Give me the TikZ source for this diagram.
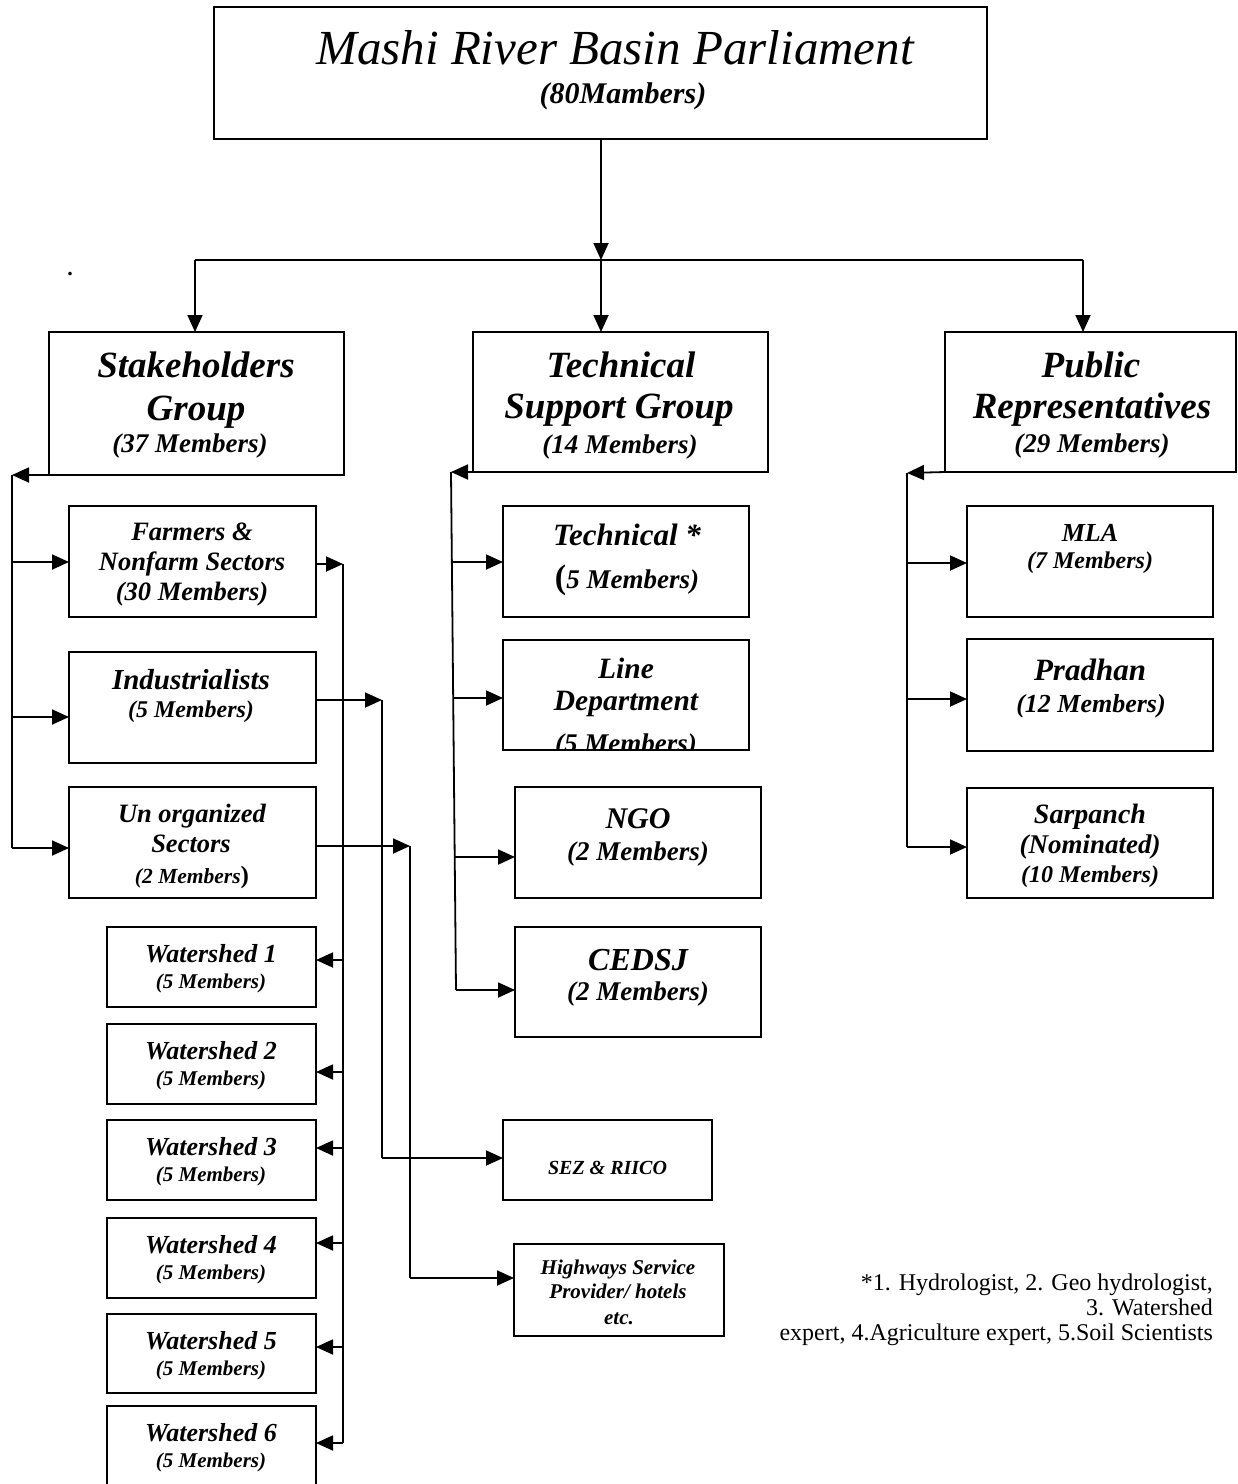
\documentclass[tikz,border=0pt]{standalone}
\usepackage{fontspec}
\setmainfont{Liberation Serif}
\usetikzlibrary{arrows.meta}
\newcommand\fsz[1]{\fontsize{#1}{#1}\selectfont}
\begin{document}
\begin{tikzpicture}[x=1pt,y=-1pt,
  box/.style={draw, line width=1.8pt, inner sep=0pt, outer sep=0pt},
  bx/.style 2 args={box, anchor=north west, minimum width=#1pt, minimum height=#2pt},
  bi/.style={anchor=base, inner sep=0pt, font=\bfseries\itshape\fsz{#1}},
  ft/.style={anchor=base east, inner sep=0pt, font=\fsz{24}},
  ln/.style={line width=1.8pt},
  arr/.style={line width=1.8pt, -{Triangle[length=17pt,width=15pt]}},
]
\useasboundingbox (0,0) rectangle (1238,1484);

% ---------- boxes ----------
\node[bx={773}{132}] (top) at (214,7) {};
\node[bx={295}{143}] (stake) at (49,332) {};
\node[bx={295}{140}] (tech) at (473,332) {};
\node[bx={291}{140}] (pub) at (945,332) {};
\node[bx={247}{111}] (farm) at (69,506) {};
\node[bx={247}{111}] (ind) at (69,652) {};
\node[bx={247}{111}] (unorg) at (69,787) {};
\node[bx={209}{80}] (ws1) at (107,927) {};
\node[bx={209}{80}] (ws2) at (107,1024) {};
\node[bx={209}{80}] (ws3) at (107,1120) {};
\node[bx={209}{80}] (ws4) at (107,1218) {};
\node[bx={209}{79}] (ws5) at (107,1314) {};
\node[bx={209}{90}] (ws6) at (107,1406) {};
\node[bx={246}{111}] (tstar) at (503,506) {};
\node[bx={246}{110}] (line) at (503,640) {};
\node[bx={246}{111}] (ngo) at (515,787) {};
\node[bx={246}{110}] (cedsj) at (515,927) {};
\node[bx={246}{111}] (mla) at (967,506) {};
\node[bx={246}{112}] (prad) at (967,639) {};
\node[bx={246}{110}] (sarp) at (967,788) {};
\node[bx={209}{80}] (sez) at (503,1120) {};
\node[bx={210}{92}] (hwy) at (514,1244) {};

% ---------- texts ----------
\node[anchor=base, inner sep=0pt, font=\itshape\fsz{49}] (t1) at (615,64) {Mashi River Basin Parliament};
\node[bi=30] (t2) at (623,103) {(80Mambers)};

\node[bi=37] (stk1) at (196,377) {Stakeholders};
\node[bi=37] (stk2) at (196,420) {Group};
\node[bi=27] (stk3) at (190,452) {(37 Members)};

\node[bi=37] (tec1) at (621,377) {Technical};
\node[bi=37] (tec2) at (619,418) {Support Group};
\node[bi=27] (tec3) at (620,453) {(14 Members)};

\node[bi=37] (pub1) at (1091,377) {Public};
\node[bi=37] (pub2) at (1092,418) {Representatives};
\node[bi=27] (pub3) at (1092,452) {(29 Members)};

\node[bi=26.5] (far1) at (192,540) {Farmers \&};
\node[bi=26.5] (far2) at (192,570) {Nonfarm Sectors};
\node[bi=26.5] (far3) at (192,600) {(30 Members)};

\node[bi=29] (ind1) at (191,689) {Industrialists};
\node[bi=24] (ind2) at (191,717) {(5 Members)};

\node[bi=26.5] (uno1) at (192,822) {Un organized};
\node[bi=26.5] (uno2) at (191,852) {Sectors};
\node[bi=21.5] (uno3) at (192,883) {(2 Members{\upshape\fsz{25})}};

\node[bi=26] (w1a) at (211,962) {Watershed 1};
\node[bi=21] (w1b) at (211,988) {(5 Members)};
\node[bi=26] (w2a) at (211,1059) {Watershed 2};
\node[bi=21] (w2b) at (211,1085) {(5 Members)};
\node[bi=26] (w3a) at (211,1155) {Watershed 3};
\node[bi=21] (w3b) at (211,1181) {(5 Members)};
\node[bi=26] (w4a) at (211,1253) {Watershed 4};
\node[bi=21] (w4b) at (211,1279) {(5 Members)};
\node[bi=26] (w5a) at (211,1349) {Watershed 5};
\node[bi=21] (w5b) at (211,1375) {(5 Members)};
\node[bi=26] (w6a) at (211,1441) {Watershed 6};
\node[bi=21] (w6b) at (211,1467) {(5 Members)};

\node[bi=31] (ts1) at (627,545) {Technical *};
\node[bi=27] (ts2) at (627,588) {{\upshape\fsz{34}(}5 Members)};

\node[bi=29.5] (ld1) at (626,678) {Line};
\node[bi=29.5] (ld2) at (626,710) {Department};
\begin{scope}
  \clip (line.north west) rectangle (line.south east);
  \node[bi=27] (ld3) at (626,752) {(5 Members)};
\end{scope}

\node[bi=30] (ngo1) at (638,828) {NGO};
\node[bi=27] (ngo2) at (638,860) {(2 Members)};

\node[bi=32] (ced1) at (638,970) {CEDSJ};
\node[bi=27] (ced2) at (638,1000) {(2 Members)};

\node[bi=26] (mla1) at (1090,541) {MLA};
\node[bi=24] (mla2) at (1090,568) {(7 Members)};

\node[bi=31] (pra1) at (1090,680) {Pradhan};
\node[bi=26] (pra2) at (1091,712) {(12 Members)};

\node[bi=28] (sar1) at (1090,823) {Sarpanch};
\node[bi=27] (sar2) at (1090,853) {(Nominated)};
\node[bi=24] (sar3) at (1090,882) {(10 Members)};

\node[bi=20] (sez1) at (607.5,1174) {SEZ \& RIICO};

\node[bi=21] (hw1) at (618,1274) {Highways Service};
\node[bi=21] (hw2) at (618,1298) {Provider/ hotels};
\node[bi=21] (hw3) at (619,1324) {etc.};

\node[ft] (fn1) at (1213,1290) {*1. Hydrologist, 2. Geo hydrologist,};
\node[ft] (fn2) at (1213,1315) {3. Watershed};
\node[ft] (fn3) at (1213,1340) {expert, 4.Agriculture expert, 5.Soil Scientists};

\node[anchor=base, inner sep=0pt, font=\bfseries\fsz{22}] (dot) at (70,275) {.};

% ---------- connectors ----------
\coordinate (j0) at (601,260);
\coordinate (jl) at (195,260);
\coordinate (jr) at (1083,260);
\draw[arr] (top.south -| j0) -- (j0);
\draw[ln] (jl) -- (jr);
\draw[arr] (jl) -- (jl |- stake.north);
\draw[arr] (j0) -- (j0 |- tech.north);
\draw[arr] (jr) -- (jr |- pub.north);

% stakeholders bus
\coordinate (sb0) at (12,475);
\coordinate (sb1) at (12,562);
\coordinate (sb2) at (12,717);
\coordinate (sb3) at (12,848);
\draw[arr] (stake.south west) -- (sb0);
\draw[ln] (sb0) -- (sb3);
\draw[arr] (sb1) -- (sb1 -| farm.west);
\draw[arr] (sb2) -- (sb2 -| ind.west);
\draw[arr] (sb3) -- (sb3 -| unorg.west);

% farmers bus to watersheds
\coordinate (fb0) at (343,564);
\coordinate (fb1) at (343,960);
\coordinate (fb2) at (343,1072);
\coordinate (fb3) at (343,1148);
\coordinate (fb4) at (343,1243);
\coordinate (fb5) at (343,1347);
\coordinate (fb6) at (343,1443);
\draw[arr] (farm.east |- fb0) -- (fb0);
\draw[ln] (fb0) -- (fb6);
\draw[arr] (fb1) -- (fb1 -| ws1.east);
\draw[arr] (fb2) -- (fb2 -| ws2.east);
\draw[arr] (fb3) -- (fb3 -| ws3.east);
\draw[arr] (fb4) -- (fb4 -| ws4.east);
\draw[arr] (fb5) -- (fb5 -| ws5.east);
\draw[arr] (fb6) -- (fb6 -| ws6.east);

% industrialists to SEZ
\coordinate (ib0) at (382,700);
\coordinate (ib1) at (382,1158);
\draw[arr] (ind.east |- ib0) -- (ib0);
\draw[ln] (ib0) -- (ib1);
\draw[arr] (ib1) -- (ib1 -| sez.west);

% unorganized to highways
\coordinate (ub0) at (410,846);
\coordinate (ub1) at (410,1278);
\draw[arr] (unorg.east |- ub0) -- (ub0);
\draw[ln] (ub0) -- (ub1);
\draw[arr] (ub1) -- (ub1 -| hwy.west);

% technical bus
\coordinate (tb0) at (451,472);
\coordinate (tb1) at (452,562);
\coordinate (tb2) at (454,698);
\coordinate (tb3) at (455,857);
\coordinate (tb4) at (456,990);
\draw[arr] (tech.south west) -- (tb0);
\draw[ln] (tb0) -- (tb4);
\draw[arr] (tb1) -- (tb1 -| tstar.west);
\draw[arr] (tb2) -- (tb2 -| line.west);
\draw[arr] (tb3) -- (tb3 -| ngo.west);
\draw[arr] (tb4) -- (tb4 -| cedsj.west);

% public bus
\coordinate (pb0) at (907,473);
\coordinate (pb1) at (907,563);
\coordinate (pb2) at (907,699);
\coordinate (pb3) at (907,847);
\draw[arr] (pub.south west) -- (pb0);
\draw[ln] (pb0) -- (pb3);
\draw[arr] (pb1) -- (pb1 -| mla.west);
\draw[arr] (pb2) -- (pb2 -| prad.west);
\draw[arr] (pb3) -- (pb3 -| sarp.west);
\end{tikzpicture}
\end{document}
